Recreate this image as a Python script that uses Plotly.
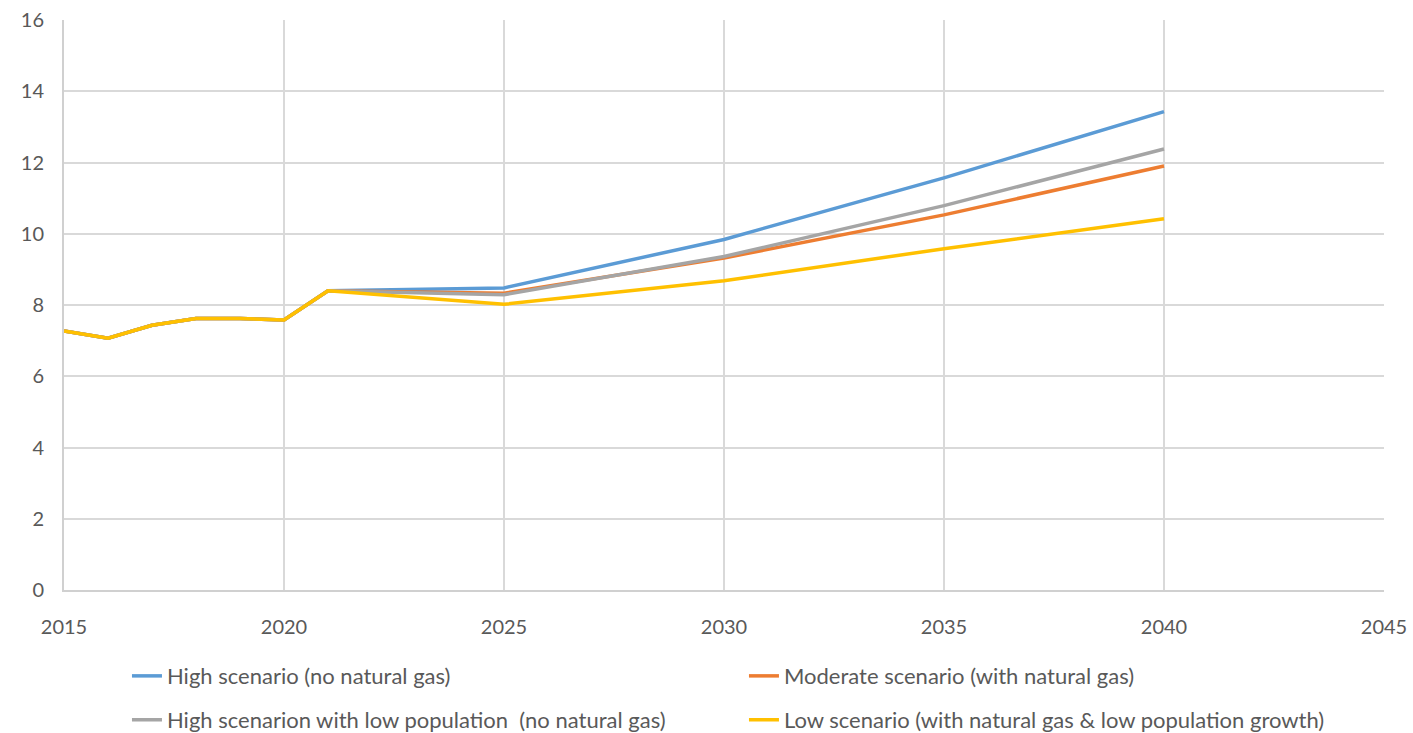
import plotly.graph_objects as go

years = [2015, 2016, 2017, 2018, 2019, 2020, 2021, 2025, 2030, 2035, 2040]
high = [7.27, 7.07, 7.43, 7.62, 7.62, 7.58, 8.40, 8.48, 9.84, 11.57, 13.43]
moderate = [7.27, 7.07, 7.43, 7.62, 7.62, 7.58, 8.40, 8.33, 9.32, 10.53, 11.90]
high_lowpop = [7.27, 7.07, 7.43, 7.62, 7.62, 7.58, 8.40, 8.29, 9.36, 10.79, 12.38]
low = [7.27, 7.07, 7.43, 7.62, 7.62, 7.58, 8.40, 8.02, 8.68, 9.58, 10.42]

names = ["High scenario (no natural gas)", "Moderate scenario (with natural gas)",
         "High scenarion with low population  (no natural gas)",
         "Low scenario (with natural gas & low population growth)"]
colors = ["#5B9BD5", "#ED7D31", "#A5A5A5", "#FFC000"]
series = [high, moderate, high_lowpop, low]
legends = ["legend", "legend", "legend2", "legend2"]

tick_font = dict(family="Lato, 'Open Sans', sans-serif", size=20, color="#595959")
leg_font = dict(family="Lato, 'Open Sans', sans-serif", size=22, color="#595959")

fig = go.Figure()
for n, c, s, lg in zip(names, colors, series, legends):
    fig.add_trace(go.Scatter(x=years, y=s, name=n, mode="lines",
                             line=dict(color=c, width=3.5), legend=lg))

leg_common = dict(orientation="h", xanchor="left", yanchor="middle", entrywidth=572,
                  entrywidthmode="pixels", font=leg_font, bgcolor="rgba(0,0,0,0)")
fig.update_layout(
    width=1413, height=733,
    margin=dict(l=64, r=29, t=20, b=143, autoexpand=False),
    plot_bgcolor="white", paper_bgcolor="white",
    font=tick_font,
    legend=dict(x=0.0477, y=-0.151, **leg_common),
    legend2=dict(x=0.0477, y=-0.228, **leg_common),
    xaxis=dict(range=[2015, 2045], dtick=5, tick0=2015, showgrid=True, gridcolor="#D9D9D9",
               gridwidth=2, showline=True, linecolor="#D0D0D0", linewidth=2, zeroline=False,
               ticks="", ticklabelstandoff=18, tickfont=tick_font, fixedrange=True),
    yaxis=dict(range=[0, 16], dtick=2, showgrid=True, gridcolor="#D9D9D9", gridwidth=2,
               showline=True, linecolor="#D0D0D0", linewidth=2, zeroline=False,
               ticks="", ticklabelstandoff=14, tickfont=tick_font, fixedrange=True),
)
fig.write_html("out.html")
